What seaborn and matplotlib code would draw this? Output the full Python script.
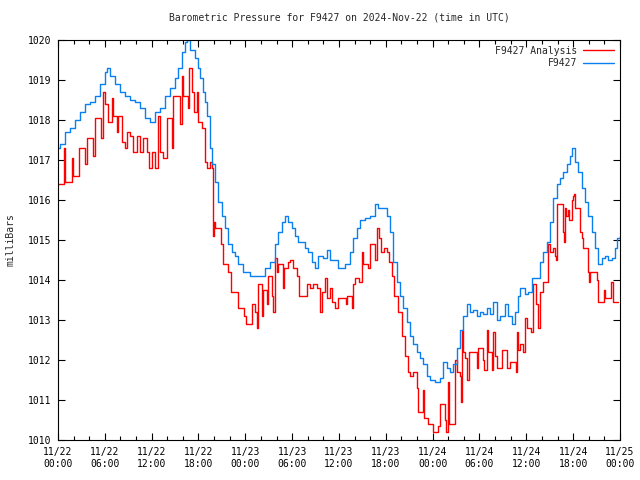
import pandas as pd
import matplotlib
matplotlib.use("Agg")
import matplotlib.pyplot as plt
import matplotlib.dates as mdates
import seaborn as sns

# hours after 2024-11-22 00:00 UTC, pressure in mb
obs_hours = [0.0, 0.26, 0.9, 1.54, 2.18, 2.82, 3.46, 4.1, 4.74, 5.38, 6.02, 6.28, 6.66, 7.3, 7.94,
             8.58, 9.22, 9.86, 10.5, 11.15, 11.79, 12.43, 13.07, 13.71, 14.35, 14.99, 15.37, 15.89,
             16.27, 16.53, 16.91, 17.55, 17.94, 18.19, 18.58, 18.83, 19.09, 19.47, 19.73, 20.11,
             20.5, 21.01, 21.39, 21.78, 22.29, 22.68, 23.06, 23.7, 24.6, 25.88, 26.52, 27.16, 27.8,
             28.18, 28.7, 29.08, 29.46, 29.98, 30.36, 30.75, 31.26, 31.64, 32.03, 32.54, 32.92,
             33.31, 33.95, 34.46, 34.85, 35.49, 35.87, 36.13, 36.77, 37.41, 37.79, 38.3, 38.69,
             39.33, 39.97, 40.61, 40.99, 41.63, 42.15, 42.53, 42.92, 43.43, 43.82, 44.2, 44.71,
             45.09, 45.48, 45.99, 46.37, 46.76, 47.27, 47.66, 48.3, 48.94, 49.32, 49.83, 50.22,
             50.6, 51.11, 51.5, 51.88, 52.4, 52.78, 53.16, 53.68, 54.06, 54.45, 54.96, 55.34,
             55.73, 56.24, 56.62, 57.26, 57.65, 58.16, 58.54, 58.93, 59.19, 59.83, 60.21, 60.72,
             61.36, 61.75, 62.13, 62.64, 63.03, 63.41, 63.93, 64.31, 64.69, 65.21, 65.59, 65.85,
             66.23, 66.62, 67.13, 67.51, 67.9, 68.41, 68.79, 69.18, 69.69, 70.07, 70.46, 70.97,
             71.36, 71.61, 72.0]
obs_mb = [1017.3, 1017.4, 1017.7, 1017.8, 1018.0, 1018.2, 1018.4, 1018.45, 1018.6, 1018.9, 1019.2,
          1019.3, 1019.1, 1018.9, 1018.7, 1018.6, 1018.5, 1018.45, 1018.3, 1018.05, 1017.95, 1018.2,
          1018.3, 1018.6, 1018.8, 1019.05, 1019.3, 1019.7, 1019.95, 1020.0, 1019.75, 1019.55,
          1019.3, 1019.05, 1018.7, 1018.45, 1018.1, 1017.3, 1016.9, 1016.45, 1015.95, 1015.6,
          1015.3, 1014.9, 1014.7, 1014.6, 1014.4, 1014.2, 1014.1, 1014.1, 1014.3, 1014.45, 1014.9,
          1015.2, 1015.45, 1015.6, 1015.45, 1015.3, 1015.1, 1014.95, 1014.95, 1014.8, 1014.7,
          1014.45, 1014.3, 1014.6, 1014.55, 1014.75, 1014.5, 1014.5, 1014.3, 1014.3, 1014.4,
          1014.7, 1015.05, 1015.3, 1015.5, 1015.55, 1015.6, 1015.9, 1015.8, 1015.8, 1015.6,
          1015.2, 1014.45, 1013.95, 1013.6, 1013.3, 1012.95, 1012.6, 1012.4, 1012.2, 1012.05,
          1011.9, 1011.6, 1011.5, 1011.45, 1011.55, 1011.95, 1011.8, 1011.7, 1011.9, 1012.3,
          1012.75, 1013.1, 1013.4, 1013.2, 1013.25, 1013.1, 1013.2, 1013.15, 1013.3, 1013.15,
          1013.45, 1013.0, 1013.1, 1013.4, 1013.1, 1012.9, 1013.2, 1013.6, 1013.8, 1013.65,
          1013.7, 1014.05, 1014.05, 1014.45, 1014.7, 1014.95, 1015.45, 1016.05, 1016.4, 1016.55,
          1016.7, 1016.9, 1017.1, 1017.3, 1016.95, 1016.7, 1016.3, 1015.95, 1015.6, 1015.2,
          1014.8, 1014.4, 1014.55, 1014.6, 1014.5, 1014.55, 1014.8, 1015.05, 1015.1]

ana_hours = [0.0, 0.77, 0.9, 1.79, 1.92, 2.69, 3.46, 3.72, 4.48, 4.74, 5.51, 5.76, 6.02, 6.41, 6.92,
             7.05, 7.56, 7.69, 8.2, 8.58, 8.84, 9.22, 9.61, 10.12, 10.5, 10.89, 11.4, 11.66, 12.04,
             12.43, 12.81, 13.07, 13.45, 13.96, 14.6, 14.73, 15.63, 15.89, 16.01, 16.65, 16.78,
             17.17, 17.42, 17.81, 17.94, 18.45, 18.83, 19.09, 19.47, 19.73, 19.86, 19.98, 20.11,
             20.88, 21.14, 21.78, 22.16, 23.06, 23.83, 24.08, 24.85, 25.24, 25.49, 25.62, 26.13,
             26.26, 26.77, 26.9, 27.42, 27.54, 27.8, 28.06, 28.18, 28.82, 28.95, 29.46, 29.72,
             30.11, 30.62, 30.87, 31.9, 32.28, 32.67, 33.18, 33.56, 33.82, 34.2, 34.46, 34.85,
             35.1, 35.49, 35.87, 36.89, 37.02, 37.66, 37.79, 38.05, 38.56, 38.94, 39.07, 39.71,
             39.97, 40.61, 40.87, 41.12, 41.38, 41.76, 42.15, 42.4, 42.79, 43.04, 43.56, 44.07,
             44.45, 44.84, 45.09, 45.48, 45.99, 46.12, 46.76, 46.89, 47.4, 48.04, 48.68, 48.94,
             49.58, 49.71, 49.96, 50.09, 50.86, 51.11, 51.5, 51.63, 51.75, 51.88, 52.14, 52.4,
             52.65, 53.68, 53.8, 54.45, 54.57, 54.96, 55.09, 55.6, 55.73, 55.98, 56.24, 56.88,
             57.52, 57.9, 58.67, 58.8, 58.93, 59.19, 59.57, 59.83, 60.08, 60.6, 60.85, 61.23,
             61.49, 61.75, 62.13, 62.77, 63.03, 63.41, 63.67, 63.8, 63.93, 64.69, 64.82, 64.95,
             65.08, 65.33, 65.46, 65.85, 65.98, 66.1, 66.23, 66.87, 67.13, 67.26, 67.9, 68.02,
             68.15, 69.05, 69.18, 69.95, 70.07, 70.84, 71.1, 71.74]
ana_mb = [1016.4, 1017.3, 1016.45, 1017.05, 1016.6, 1017.3, 1016.9, 1017.55, 1017.1, 1018.05,
          1017.55, 1018.7, 1018.4, 1017.95, 1018.55, 1018.1, 1017.7, 1018.1, 1017.45, 1017.3,
          1017.7, 1017.6, 1017.2, 1017.6, 1017.2, 1017.55, 1017.2, 1016.8, 1017.2, 1016.8,
          1018.1, 1017.2, 1017.05, 1018.05, 1017.3, 1018.6, 1017.9, 1019.1, 1018.6, 1018.3,
          1019.3, 1018.7, 1018.2, 1018.7, 1017.95, 1017.8, 1016.95, 1016.8, 1016.95, 1016.8,
          1015.1, 1015.45, 1015.3, 1014.9, 1014.4, 1014.2, 1013.7, 1013.3, 1013.1, 1012.9,
          1013.4, 1013.2, 1012.8, 1013.9, 1013.1, 1013.75, 1013.4, 1014.1, 1013.6, 1013.2,
          1014.55, 1014.2, 1014.4, 1013.8, 1014.3, 1014.45, 1014.5, 1014.3, 1014.1, 1013.6,
          1013.9, 1013.8, 1013.9, 1013.8, 1013.2, 1013.7, 1014.05, 1013.55, 1013.8, 1013.45,
          1013.3, 1013.55, 1013.4, 1013.6, 1013.3, 1013.9, 1014.05, 1013.95, 1014.7, 1014.4,
          1014.3, 1014.9, 1014.5, 1015.3, 1015.05, 1014.7, 1014.8, 1014.7, 1014.45, 1014.1,
          1013.6, 1013.2, 1012.6, 1012.1, 1011.7, 1011.6, 1011.7, 1011.3, 1010.7, 1011.25,
          1010.55, 1010.4, 1010.2, 1010.35, 1010.9, 1010.5, 1010.2, 1011.45, 1010.4, 1012.0,
          1011.7, 1011.6, 1010.95, 1012.75, 1012.2, 1012.05, 1011.5, 1012.2, 1011.8, 1012.3,
          1012.0, 1011.75, 1012.75, 1012.2, 1011.75, 1012.7, 1012.1, 1011.8, 1012.25, 1011.8,
          1011.95, 1011.7, 1012.7, 1012.25, 1012.4, 1012.2, 1013.05, 1012.8, 1012.7, 1013.9,
          1013.4, 1012.8, 1013.7, 1013.95, 1014.9, 1014.7, 1014.8, 1014.6, 1014.5, 1015.9,
          1015.2, 1014.95, 1015.8, 1015.6, 1015.75, 1015.5, 1016.0, 1016.1, 1016.15, 1015.8,
          1015.2, 1015.05, 1014.8, 1014.2, 1013.95, 1014.2, 1014.0, 1013.45, 1013.75, 1013.55,
          1013.95, 1013.45, 1013.45]

start = pd.Timestamp("2024-11-22 00:00")
obs = pd.DataFrame({"time": start + pd.to_timedelta(obs_hours, unit="h"), "mb": obs_mb})
ana = pd.DataFrame({"time": start + pd.to_timedelta(ana_hours, unit="h"), "mb": ana_mb})

sns.set_style("ticks")
plt.rcParams['font.family'] = ['DejaVu Sans Mono']
plt.rcParams['font.size'] = 7

fig = plt.figure(figsize=(6.4, 4.8), dpi=100)
ax = fig.add_axes([58/640, 40/480, 562/640, 400/480])

sns.lineplot(data=ana, x="time", y="mb", ax=ax, color="#ff0000", lw=1.0,
             drawstyle="steps-post", estimator=None, label="F9427 Analysis")
sns.lineplot(data=obs, x="time", y="mb", ax=ax, color="#0a80f0", lw=1.0,
             drawstyle="steps-post", estimator=None, label="F9427")

ax.set_xlim(start, start + pd.Timedelta(hours=72))
ax.set_ylim(1010, 1020)
ax.set_yticks(range(1010, 1021))
ax.xaxis.set_major_locator(mdates.HourLocator(byhour=range(0, 24, 6)))
ax.xaxis.set_minor_locator(mdates.HourLocator(interval=2))
ax.xaxis.set_major_formatter(mdates.DateFormatter("%m/%d\n%H:%M"))
ax.tick_params(which="both", direction="in", top=True, right=True, colors="black",
               labelsize=7, width=0.8)
ax.tick_params(which="major", length=5, pad=5)
ax.tick_params(which="minor", length=3)
for s in ax.spines.values():
    s.set_linewidth(0.8)
    s.set_color("black")
ax.set_xlabel("")
ax.set_ylabel("")

fig.text(339/640, 1 - 18/480, "Barometric Pressure for F9427 on 2024-Nov-22 (time in UTC)",
         ha="center", va="center", fontsize=7)
fig.text(11/640, 0.5, "milliBars", rotation=90, ha="center", va="center", fontsize=7)

ax.legend(loc="upper right", frameon=False, markerfirst=False, handlelength=3.2,
          fontsize=7, borderaxespad=0.2, labelspacing=0.25, handletextpad=0.6)

fig.savefig("out.png", dpi=100)
